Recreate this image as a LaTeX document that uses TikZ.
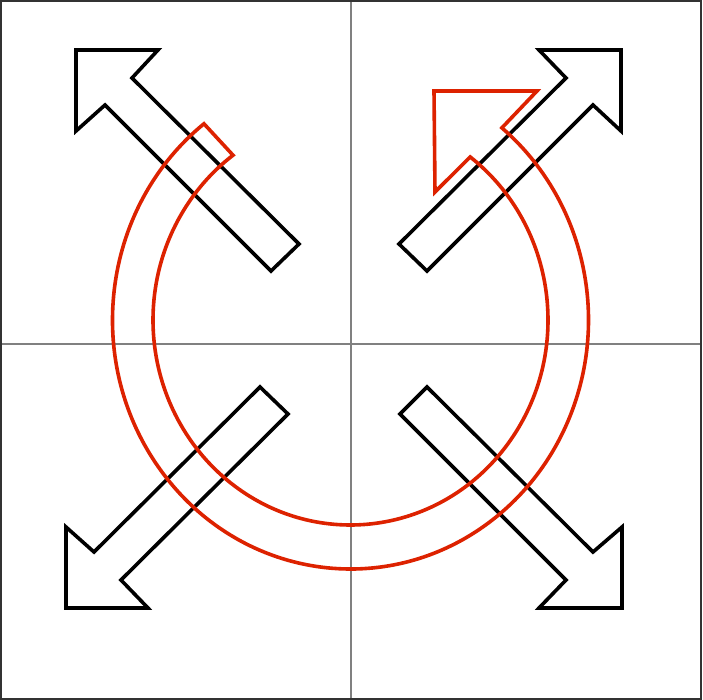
\documentclass[tikz,border=0pt]{standalone}
\usepackage{tikz}
\usetikzlibrary{calc}
\definecolor{ringred}{HTML}{DD2200}
\definecolor{crossgray}{HTML}{808080}
\definecolor{framegray}{HTML}{333333}
\tikzset{
  blackarrow/.style={draw=black, line width=3.6pt, line join=miter},
  redarrow/.style={draw=ringred, line width=3.6pt, line join=miter},
  crossline/.style={draw=crossgray, line width=1.5pt},
  frameline/.style={draw=framegray, line width=1.8pt}
}
\begin{document}
\begin{tikzpicture}[x=1pt,y=-1pt]
\useasboundingbox (0,0) rectangle (703,700);
\fill[white] (0,0) rectangle (703,700);
% quadrant cross
\draw[crossline] (351,1) -- (351,699);
\draw[crossline] (1,344) -- (701,344);
% frame
\draw[frameline] (1,1) rectangle (701,699);
% four corner arrows
\draw[blackarrow] (76,50) -- (158,50) -- (132,78) -- (299,244) -- (271,271) -- (105,105) -- (76,131) -- cycle;
\draw[blackarrow] (621,50) -- (539,50) -- (566,78) -- (399,244) -- (427,271) -- (593,105) -- (621,131) -- cycle;
\draw[blackarrow] (66,608) -- (66,527) -- (94,552) -- (260,387) -- (288,414) -- (121,580) -- (148,608) -- cycle;
\draw[blackarrow] (622,608) -- (622,527) -- (593,552) -- (427,387) -- (400,414) -- (566,580) -- (539,608) -- cycle;
% red circular arrow
\coordinate (c) at (350.5,320);
\draw[redarrow] ($(c)+(232:238 and 249)$)
  arc[start angle=232, end angle=-50.5, x radius=238, y radius=249]
  -- (537,91) -- (434,91) -- (435,192)
  -- ($(c)+(-52.7:197.5 and 205)$)
  arc[start angle=-52.7, end angle=233.5, x radius=197.5, y radius=205]
  -- cycle;
\end{tikzpicture}
\end{document}
